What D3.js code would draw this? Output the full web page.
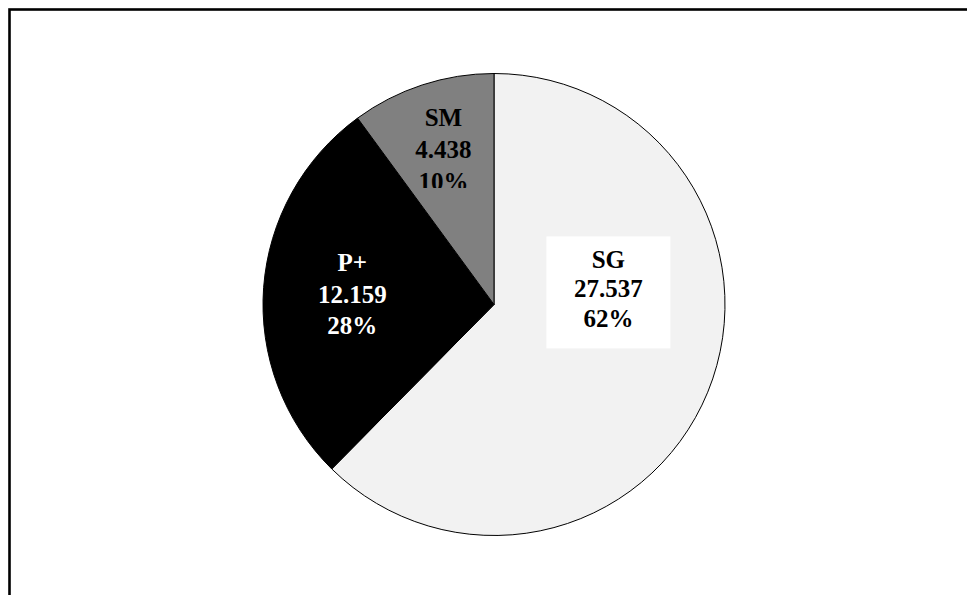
<!DOCTYPE html>
<html><head><meta charset="utf-8">
<script src="https://cdn.jsdelivr.net/npm/d3@7"></script>
<style>html,body{margin:0;padding:0;background:#fff;overflow:hidden}</style>
</head><body>
<script>
const categories = ["SG", "P+", "SM"];
const values = [27.537, 12.159, 4.438];
const valueLabels = ["27.537", "12.159", "4.438"];
const percentLabels = ["62%", "28%", "10%"];
const colors = ["#f2f2f2", "#000000", "#808080"];
const textColors = ["#000000", "#ffffff", "#000000"];

const W = 967, H = 595;
const cx = 494, cy = 304.5, R = 231;

const svg = d3.select("body").append("svg").attr("width", W).attr("height", H);

// outer frame (clipped by window on right/bottom)
svg.append("rect").attr("x", 9.5).attr("y", 9.5).attr("width", 1000).attr("height", 700)
  .attr("fill", "none").attr("stroke", "#000").attr("stroke-width", 2.6);

const data = categories.map((c, i) => ({cat: c, value: values[i], vl: valueLabels[i], pl: percentLabels[i], color: colors[i], tc: textColors[i]}));
const pie = d3.pie().sort(null).value(d => d.value).startAngle(0).endAngle(2 * Math.PI);
const arcs = pie(data);
const arc = d3.arc().innerRadius(0).outerRadius(R);

const g = svg.append("g").attr("transform", `translate(${cx},${cy})`);
g.selectAll("path.slice").data(arcs).join("path").attr("class", "slice")
  .attr("d", arc).attr("fill", d => d.data.color)
  .attr("stroke", "#000").attr("stroke-width", 1);

// label layout: radius fraction and angle override for each slice
const labelRadiusFrac = [0.5, 0.615, 0.705];
const labelAngleDeg = [82, null, null];
const lineH = [29.5, 31.5, 32];

const defs = svg.append("defs");
defs.append("clipPath").attr("id", "smclip").append("rect")
  .attr("x", -R).attr("y", -R).attr("width", 2 * R).attr("height", R - 116.5);

arcs.forEach((a, i) => {
  let ang = labelAngleDeg[i] != null ? labelAngleDeg[i] * Math.PI / 180 : (a.startAngle + a.endAngle) / 2;
  const r = R * labelRadiusFrac[i];
  const x = Math.sin(ang) * r, y = -Math.cos(ang) * r;
  const lg = g.append("g");
  if (i === 2) lg.attr("clip-path", "url(#smclip)");
  if (i === 0) {
    lg.append("rect").attr("x", x - 62).attr("y", y - 52).attr("width", 124).attr("height", 112).attr("fill", "#fff");
  }
  const lines = [a.data.cat, a.data.vl, a.data.pl];
  lines.forEach((t, k) => {
    lg.append("text").attr("x", x).attr("y", y + (k - 1) * lineH[i])
      .attr("dy", "0.35em")
      .attr("text-anchor", "middle")
      .attr("font-family", "'Liberation Serif','Times New Roman',serif")
      .attr("font-weight", "bold").attr("font-size", 25)
      .attr("fill", a.data.tc).text(t);
  });
});
</script>
</body></html>
